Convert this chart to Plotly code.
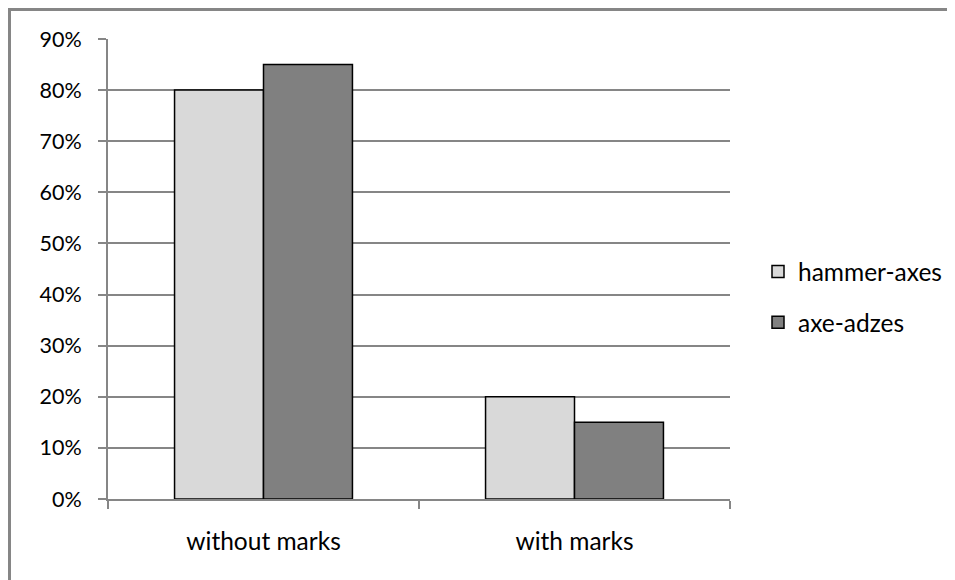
import plotly.graph_objects as go

categories = ["without marks", "with marks"]
hammer_axes = [0.80, 0.20]
axe_adzes = [0.85, 0.15]
series_names = ["hammer-axes", "axe-adzes"]
y_ticks = [0, 0.1, 0.2, 0.3, 0.4, 0.5, 0.6, 0.7, 0.8, 0.9]

# the page body has an 8px margin; the figure sits at (8, 8)
OFF = 8
W, H = 955 - OFF, 580 - OFF
L, R, T, B = 108, 730, 39, 499   # plot area in page pixels

fig = go.Figure()
fig.add_trace(go.Bar(x=categories, y=hammer_axes, name=series_names[0], legendgroup="a",
                     marker=dict(color="#d9d9d9", line=dict(color="black", width=1.5))))
fig.add_trace(go.Bar(x=categories, y=axe_adzes, name=series_names[1], legendgroup="b",
                     marker=dict(color="#808080", line=dict(color="black", width=1.5))))

def px(x):
    return (x - L) / (R - L)

def py(y):
    return (B - y) / (B - T)

fig.add_shape(type="line", xref="paper", yref="paper", x0=px(8), x1=px(956), y0=py(9.5), y1=py(9.5),
              line=dict(color="#868686", width=3))
fig.add_shape(type="line", xref="paper", yref="paper", x0=px(9.5), x1=px(9.5), y0=py(9.5), y1=py(590),
              line=dict(color="#868686", width=3))

fig.update_layout(
    width=W, height=H,
    margin=dict(l=L - OFF, r=W - (R - OFF), t=T - OFF, b=H - (B - OFF), autoexpand=False),
    paper_bgcolor="white", plot_bgcolor="white",
    font=dict(family="Lato, Liberation Sans, sans-serif", size=24.5, color="black"),
    barmode="group", bargap=0.428, bargroupgap=0,
    showlegend=True,
    legend=dict(x=px(758), y=py(249), xanchor="left", yanchor="top",
                traceorder="grouped", tracegroupgap=16,
                font=dict(size=24.5), bgcolor="rgba(0,0,0,0)"),
    xaxis=dict(showline=True, linecolor="#868686", linewidth=2,
               ticks="outside", tickson="boundaries", ticklen=8, tickcolor="#868686", tickwidth=2,
               ticklabelstandoff=20, showgrid=False, tickfont=dict(size=24.5)),
    yaxis=dict(range=[0, 0.9], tickvals=y_ticks, tickformat=".0%",
               showline=True, linecolor="#868686", linewidth=2,
               ticks="outside", ticklen=8, tickcolor="#868686", tickwidth=2,
               showgrid=True, gridcolor="#868686", gridwidth=2, zeroline=False,
               ticklabelstandoff=12, tickfont=dict(size=21.5)),
)

fig.write_html("out.html")
